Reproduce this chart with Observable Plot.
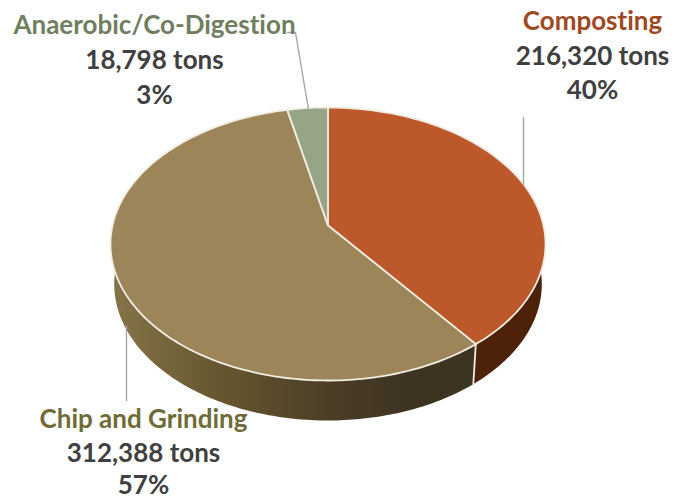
<!DOCTYPE html>
<html>
<head>
<meta charset="utf-8">
<script src="https://cdn.jsdelivr.net/npm/d3@7"></script>
<script src="https://cdn.jsdelivr.net/npm/@observablehq/plot@0.6"></script>
<style>html,body{margin:0;padding:0;background:#fff}svg{display:block}svg text{font-variant-ligatures:none}</style>
</head>
<body>
<div id="chart"></div>
<script>
const categories = ["Composting", "Chip and Grinding", "Anaerobic/Co-Digestion"];
const tons = [216320, 312388, 18798];
const percents = ["40%", "57%", "3%"];

// styling and layout, separate from the data
const topColors = ["#bd582b", "#9c8558", "#96a586"];
const sideFills = ["#4e2109", "url(#chipSide)", "#6b7a5c"];
const titleColors = ["#a0481f", "#6f6b37", "#6f7f5f"];
const labelX = [592, 143, 154];
const labelY = [[21, 56, 90], [419, 453, 485], [25, 60, 95]];
const leaders = [
  [[523, 117], [523, 184]],
  [[126, 326], [126, 400]],
  [[287, 32], [295, 32], [308, 109]]
];
const W = 673, H = 499;
const view = {cx: 327.5, cy: 225, a: 215.5, b: 134, k: 0.1355, depth: 40, shrink: 0.983};

// perspective projection of the tilted disc: t is the cumulative share of the total, clockwise from 12 o'clock
function project(t, lower) {
  const th = t * 2 * Math.PI, X = Math.sin(th), Y = -Math.cos(th), w = 1 - view.k * Y;
  const x = view.a * X / w, y = view.cy + view.b * Y / w;
  return lower ? {x: view.cx + view.shrink * x, y: y + view.depth} : {x: view.cx + x, y};
}
const total = d3.sum(tons);
const cum = d3.cumsum(tons).map(v => v / total);
const starts = [0, ...cum.slice(0, -1)];
const arc = (t0, t1, lower) => {
  const n = Math.max(8, Math.ceil((t1 - t0) * 360));
  return d3.range(n + 1).map(i => project(t0 + (t1 - t0) * i / n, lower));
};
const topPath = tons.map((_, i) => {
  const c = {x: view.cx, y: view.cy};
  return [c, ...arc(starts[i], cum[i], false), c];
});
const sidePath = tons.map((_, i) => {
  const a = arc(starts[i], cum[i], false), b = arc(starts[i], cum[i], true).reverse();
  return [...a, ...b, a[0]];
});
const seam = [project(cum[0], false), project(cum[0], true)];

const marks = [];
[1, 0].forEach(i => marks.push(Plot.line(sidePath[i], {x: "x", y: "y", fill: sideFills[i], stroke: "none", curve: "linear"})));
marks.push(Plot.line(seam, {x: "x", y: "y", stroke: "#f1ede2", strokeWidth: 1.8}));
[0, 1, 2].forEach(i => marks.push(Plot.line(topPath[i], {x: "x", y: "y", fill: topColors[i], stroke: "#f1ede2", strokeWidth: 1.8, strokeLinejoin: "round", curve: "linear"})));
leaders.forEach(l => marks.push(Plot.line(l, {x: d => d[0], y: d => d[1], stroke: "#a6a6a6", strokeWidth: 1.4})));
const font = {fontFamily: "Lato, 'Open Sans', sans-serif", fontWeight: 700, fontSize: 26, textAnchor: "middle"};
categories.forEach((c, i) => {
  const lines = [c, d3.format(",")(tons[i]) + " tons", percents[i]];
  lines.forEach((s, j) => marks.push(Plot.text([s], {
    x: () => labelX[i], y: () => labelY[i][j], text: d => d,
    fill: j === 0 ? titleColors[i] : "#404040", ...font
  })));
});

const svg = Plot.plot({
  width: W, height: H, margin: 0,
  x: {domain: [0, W], range: [0, W], axis: null},
  y: {domain: [0, H], range: [0, H], axis: null},
  style: {background: "#fff"},
  marks
});
const defs = d3.create("svg:defs");
const g = defs.append("linearGradient").attr("id", "chipSide").attr("gradientUnits", "userSpaceOnUse")
  .attr("x1", 112).attr("y1", 0).attr("x2", 473).attr("y2", 0);
[[0, "#857449"], [0.3, "#66562f"], [0.6, "#4b3e26"], [0.8, "#3f3422"], [1, "#3d3321"]]
  .forEach(([o, c]) => g.append("stop").attr("offset", o).attr("stop-color", c));
svg.insertBefore(defs.node(), svg.firstChild);
document.getElementById("chart").append(svg);
</script>
</body>
</html>
